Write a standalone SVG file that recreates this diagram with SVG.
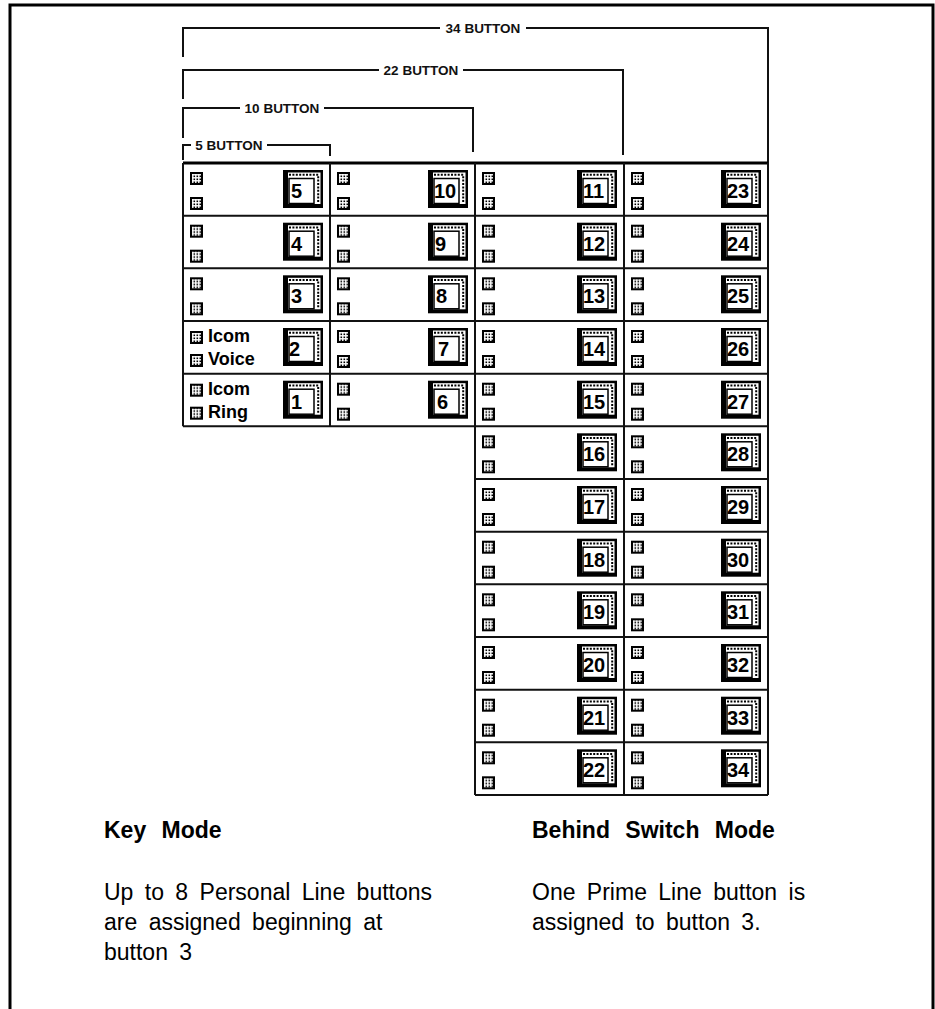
<svg xmlns="http://www.w3.org/2000/svg" xmlns:xlink="http://www.w3.org/1999/xlink" width="935" height="1009" viewBox="0 0 935 1009">
<style>
.ln{stroke:#111;stroke-width:2;fill:none}
.gl{stroke:#111;stroke-width:2;fill:none}
.lbl{font-family:"Liberation Sans",Arial,sans-serif;font-weight:bold;font-size:13.5px;fill:#111;text-anchor:middle}
.num{font-family:"Liberation Sans",Arial,sans-serif;font-weight:bold;font-size:20px;fill:#000}
.icom{font-family:"Liberation Sans",Arial,sans-serif;font-weight:bold;font-size:18px;fill:#000}
.hd{font-family:"Liberation Sans",Arial,sans-serif;font-weight:bold;font-size:23px;fill:#000;word-spacing:9px}
.body{font-family:"Liberation Sans",Arial,sans-serif;font-size:23px;fill:#000;word-spacing:5px}
</style>
<defs>
<pattern id="dots" patternUnits="userSpaceOnUse" width="3" height="3">
<rect width="3" height="3" fill="#fff"/>
<rect x="0.5" y="0.5" width="1.6" height="1.6" fill="#000"/>
</pattern>
<symbol id="led" overflow="visible">
<rect width="13" height="13" fill="#000"/>
<rect x="2" y="2" width="9" height="9" fill="url(#dots)"/>
</symbol>
<symbol id="btn" overflow="visible">
<rect width="40" height="38" fill="#000"/>
<rect x="5" y="2.5" width="32.5" height="31.5" fill="#fff"/>
<path d="M6 4.8 H35.2 V32.5" fill="none" stroke="#000" stroke-width="2" stroke-dasharray="2 1.4"/>
<rect x="6" y="8.5" width="25" height="25" fill="#fff" stroke="#000" stroke-width="1.5"/>
</symbol>
</defs>
<rect width="935" height="1009" fill="#fff"/>
<g id="frame">
<path d="M10 1009 V5 H933 V1009" stroke="#000" stroke-width="3" fill="none"/>
</g>
<g id="connectors">
<g id="bracket34">
<path class="ln" d="M183 57 V28 H440 M526 28 H768 V163"/>
<text class="lbl" x="483" y="33">34 BUTTON</text>
</g>
<g id="bracket22">
<path class="ln" d="M183 99 V70 H379 M463 70 H623 V155"/>
<text class="lbl" x="421" y="75">22 BUTTON</text>
</g>
<g id="bracket10">
<path class="ln" d="M183 138 V108 H240 M324 108 H473 V152"/>
<text class="lbl" x="282" y="113">10 BUTTON</text>
</g>
<g id="bracket5">
<path class="ln" d="M183 160 V145 H191 M267 145 H330 V156"/>
<text class="lbl" x="229" y="150">5 BUTTON</text>
</g>
</g>
<g id="grid">
<path d="M183 163 H768" stroke="#000" stroke-width="3"/>
<path class="gl" d="M183 163 V426.3 M330 163 V426.3 M475 163 V795 M624 163 V795 M768 163 V795 M475 795 H768 M183 215.7 H768 M183 268.3 H768 M183 321 H768 M183 373.7 H768 M183 426.3 H768 M475 479 H768 M475 531.7 H768 M475 584.3 H768 M475 637 H768 M475 689.7 H768 M475 742.3 H768"/>
</g>
<g id="btn5"><use href="#led" x="190" y="172"/><use href="#led" x="190" y="197"/><use href="#btn" x="283" y="170"/><text class="num" x="291" y="198">5</text></g>
<g id="btn4"><use href="#led" x="190" y="224.7"/><use href="#led" x="190" y="249.7"/><use href="#btn" x="283" y="222.7"/><text class="num" x="291" y="250.7">4</text></g>
<g id="btn3"><use href="#led" x="190" y="277.3"/><use href="#led" x="190" y="302.3"/><use href="#btn" x="283" y="275.3"/><text class="num" x="291" y="303.3">3</text></g>
<g id="btn2"><use href="#led" x="190" y="331"/><use href="#led" x="190" y="354"/><text class="icom" x="208" y="342">Icom</text><text class="icom" x="208" y="365">Voice</text><use href="#btn" x="283" y="328"/><text class="num" x="289" y="356">2</text></g>
<g id="btn1"><use href="#led" x="190" y="383.7"/><use href="#led" x="190" y="406.7"/><text class="icom" x="208" y="395">Icom</text><text class="icom" x="208" y="418">Ring</text><use href="#btn" x="283" y="380.7"/><text class="num" x="291" y="408.7">1</text></g>
<g id="btn10"><use href="#led" x="337" y="172"/><use href="#led" x="337" y="197"/><use href="#btn" x="428" y="170"/><text class="num" x="434" y="198">10</text></g>
<g id="btn9"><use href="#led" x="337" y="224.7"/><use href="#led" x="337" y="249.7"/><use href="#btn" x="428" y="222.7"/><text class="num" x="435" y="250.7">9</text></g>
<g id="btn8"><use href="#led" x="337" y="277.3"/><use href="#led" x="337" y="302.3"/><use href="#btn" x="428" y="275.3"/><text class="num" x="436" y="303.3">8</text></g>
<g id="btn7"><use href="#led" x="337" y="330"/><use href="#led" x="337" y="355"/><use href="#btn" x="428" y="328"/><text class="num" x="438" y="356">7</text></g>
<g id="btn6"><use href="#led" x="337" y="382.7"/><use href="#led" x="337" y="407.7"/><use href="#btn" x="428" y="380.7"/><text class="num" x="437" y="408.7">6</text></g>
<g id="btn11"><use href="#led" x="482" y="172"/><use href="#led" x="482" y="197"/><use href="#btn" x="577" y="170"/><text class="num" x="583" y="198">11</text></g>
<g id="btn12"><use href="#led" x="482" y="224.7"/><use href="#led" x="482" y="249.7"/><use href="#btn" x="577" y="222.7"/><text class="num" x="583" y="250.7">12</text></g>
<g id="btn13"><use href="#led" x="482" y="277.3"/><use href="#led" x="482" y="302.3"/><use href="#btn" x="577" y="275.3"/><text class="num" x="583" y="303.3">13</text></g>
<g id="btn14"><use href="#led" x="482" y="330"/><use href="#led" x="482" y="355"/><use href="#btn" x="577" y="328"/><text class="num" x="583" y="356">14</text></g>
<g id="btn15"><use href="#led" x="482" y="382.7"/><use href="#led" x="482" y="407.7"/><use href="#btn" x="577" y="380.7"/><text class="num" x="583" y="408.7">15</text></g>
<g id="btn16"><use href="#led" x="482" y="435.3"/><use href="#led" x="482" y="460.3"/><use href="#btn" x="577" y="433.3"/><text class="num" x="583" y="461.3">16</text></g>
<g id="btn17"><use href="#led" x="482" y="488"/><use href="#led" x="482" y="513"/><use href="#btn" x="577" y="486"/><text class="num" x="583" y="514">17</text></g>
<g id="btn18"><use href="#led" x="482" y="540.7"/><use href="#led" x="482" y="565.7"/><use href="#btn" x="577" y="538.7"/><text class="num" x="583" y="566.7">18</text></g>
<g id="btn19"><use href="#led" x="482" y="593.3"/><use href="#led" x="482" y="618.3"/><use href="#btn" x="577" y="591.3"/><text class="num" x="583" y="619.3">19</text></g>
<g id="btn20"><use href="#led" x="482" y="646"/><use href="#led" x="482" y="671"/><use href="#btn" x="577" y="644"/><text class="num" x="583" y="672">20</text></g>
<g id="btn21"><use href="#led" x="482" y="698.7"/><use href="#led" x="482" y="723.7"/><use href="#btn" x="577" y="696.7"/><text class="num" x="583" y="724.7">21</text></g>
<g id="btn22"><use href="#led" x="482" y="751.3"/><use href="#led" x="482" y="776.3"/><use href="#btn" x="577" y="749.3"/><text class="num" x="583" y="777.3">22</text></g>
<g id="btn23"><use href="#led" x="631" y="172"/><use href="#led" x="631" y="197"/><use href="#btn" x="721" y="170"/><text class="num" x="727" y="198">23</text></g>
<g id="btn24"><use href="#led" x="631" y="224.7"/><use href="#led" x="631" y="249.7"/><use href="#btn" x="721" y="222.7"/><text class="num" x="727" y="250.7">24</text></g>
<g id="btn25"><use href="#led" x="631" y="277.3"/><use href="#led" x="631" y="302.3"/><use href="#btn" x="721" y="275.3"/><text class="num" x="727" y="303.3">25</text></g>
<g id="btn26"><use href="#led" x="631" y="330"/><use href="#led" x="631" y="355"/><use href="#btn" x="721" y="328"/><text class="num" x="727" y="356">26</text></g>
<g id="btn27"><use href="#led" x="631" y="382.7"/><use href="#led" x="631" y="407.7"/><use href="#btn" x="721" y="380.7"/><text class="num" x="727" y="408.7">27</text></g>
<g id="btn28"><use href="#led" x="631" y="435.3"/><use href="#led" x="631" y="460.3"/><use href="#btn" x="721" y="433.3"/><text class="num" x="727" y="461.3">28</text></g>
<g id="btn29"><use href="#led" x="631" y="488"/><use href="#led" x="631" y="513"/><use href="#btn" x="721" y="486"/><text class="num" x="727" y="514">29</text></g>
<g id="btn30"><use href="#led" x="631" y="540.7"/><use href="#led" x="631" y="565.7"/><use href="#btn" x="721" y="538.7"/><text class="num" x="727" y="566.7">30</text></g>
<g id="btn31"><use href="#led" x="631" y="593.3"/><use href="#led" x="631" y="618.3"/><use href="#btn" x="721" y="591.3"/><text class="num" x="727" y="619.3">31</text></g>
<g id="btn32"><use href="#led" x="631" y="646"/><use href="#led" x="631" y="671"/><use href="#btn" x="721" y="644"/><text class="num" x="727" y="672">32</text></g>
<g id="btn33"><use href="#led" x="631" y="698.7"/><use href="#led" x="631" y="723.7"/><use href="#btn" x="721" y="696.7"/><text class="num" x="727" y="724.7">33</text></g>
<g id="btn34"><use href="#led" x="631" y="751.3"/><use href="#led" x="631" y="776.3"/><use href="#btn" x="721" y="749.3"/><text class="num" x="727" y="777.3">34</text></g>
<g id="keymode">
<text class="hd" x="104" y="838">Key Mode</text>
<text class="body" x="104" y="900">Up to 8 Personal Line buttons</text>
<text class="body" x="104" y="930">are assigned beginning at</text>
<text class="body" x="104" y="960">button 3</text>
</g>
<g id="bsmode">
<text class="hd" x="532" y="838">Behind Switch Mode</text>
<text class="body" x="532" y="900">One Prime Line button is</text>
<text class="body" x="532" y="930">assigned to button 3.</text>
</g>
</svg>
